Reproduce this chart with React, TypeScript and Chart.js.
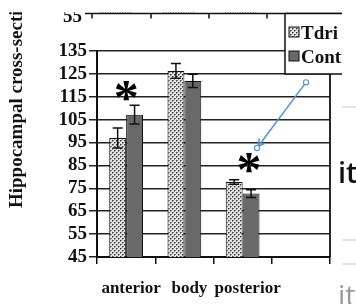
import React, { useEffect, useRef } from "react";
import { Chart, registerables } from "chart.js";

Chart.register(...registerables);

// ---- data ----
const categories = ["anterior", "body", "posterior", ""];
const seriesNames = ["Tdri", "Control"];
const tdriValues = [97, 126.3, 77.8, null];
const tdriErrors = [4.4, 3.2, 1.0, null];
const controlValues = [107.2, 121.9, 72.7, null];
const controlErrors = [4.1, 2.9, 1.7, null];
const yMin = 45;
const yMax = 135;
const yStep = 10;
const yAxisTitle = "Hippocampal cross-sectional area";
const topAxisLabel = "55";
// significance stars: category index, value
const starCategories = [0, 2.11];
const starValues = [117.6, 86];
// annotation arrow (category index, value)
const arrowFrom = [3.088, 121.3];
const arrowTo = [2.247, 92.6];
const sideTexts = ["it", "it"];

const SERIF = "'Liberation Serif', 'Times New Roman', serif";

function makePattern(): CanvasPattern | string {
  const c = document.createElement("canvas");
  c.width = 4;
  c.height = 4;
  const g = c.getContext("2d");
  if (!g) return "#bbb";
  g.fillStyle = "#e2e2e2";
  g.fillRect(0, 0, 4, 4);
  g.fillStyle = "#3a3a3a";
  g.fillRect(0, 0, 1, 1);
  g.fillRect(2, 2, 1, 1);
  g.fillStyle = "#888";
  g.fillRect(1, 0, 1, 1);
  g.fillRect(3, 2, 1, 1);
  g.fillRect(0, 1, 1, 1);
  g.fillRect(2, 3, 1, 1);
  const p = g.createPattern(c, "repeat");
  return p || "#bbb";
}

const extrasPlugin = {
  id: "extras",
  afterDatasetsDraw(chart: any) {
    const ctx = chart.ctx;
    const ys = chart.scales.y;
    const errs = [tdriErrors, controlErrors];
    const vals = [tdriValues, controlValues];
    ctx.save();
    ctx.strokeStyle = "#111";
    ctx.lineWidth = 1.5;
    for (let d = 0; d < 2; d++) {
      const meta = chart.getDatasetMeta(d);
      meta.data.forEach((el: any, i: number) => {
        const v = vals[d][i];
        const e = errs[d][i];
        if (v == null || e == null) return;
        const x = el.x;
        const yt = ys.getPixelForValue(v + e);
        const yb = ys.getPixelForValue(v - e);
        ctx.beginPath();
        ctx.moveTo(x, yt);
        ctx.lineTo(x, yb);
        ctx.moveTo(x - 5, yt);
        ctx.lineTo(x + 5, yt);
        ctx.moveTo(x - 5, yb);
        ctx.lineTo(x + 5, yb);
        ctx.stroke();
      });
    }
    ctx.restore();
  },
  afterDraw(chart: any) {
    const ctx = chart.ctx;
    const xs = chart.scales.x;
    const ys = chart.scales.y;
    const area = chart.chartArea;
    ctx.save();

    // right border of plot
    ctx.strokeStyle = "#111";
    ctx.lineWidth = 1.8;
    ctx.beginPath();
    ctx.moveTo(area.right, ys.getPixelForValue(125));
    ctx.lineTo(area.right, area.bottom);
    ctx.stroke();

    // y-axis title
    ctx.save();
    ctx.translate(22, 208);
    ctx.rotate(-Math.PI / 2);
    ctx.fillStyle = "#111";
    ctx.font = `bold 19px ${SERIF}`;
    ctx.textAlign = "left";
    ctx.textBaseline = "alphabetic";
    ctx.fillText(yAxisTitle, 0, 0);
    ctx.restore();

    // top remnant axis from figure above
    ctx.fillStyle = "#111";
    ctx.font = `bold 19px ${SERIF}`;
    ctx.textAlign = "right";
    ctx.textBaseline = "alphabetic";
    ctx.fillText(topAxisLabel, 82, 22);
    ctx.fillStyle = "#fff";
    ctx.fillRect(0, 0, 356, 12.3);
    ctx.strokeStyle = "#111";
    ctx.lineWidth = 1.5;
    ctx.beginPath();
    ctx.moveTo(85, 13.5);
    ctx.lineTo(342, 13.5);
    ctx.stroke();
    const tickXs = [92, 151, 209, 267, 325];
    ctx.beginPath();
    tickXs.forEach((tx) => {
      ctx.moveTo(tx, 13);
      ctx.lineTo(tx, 18.5);
    });
    ctx.stroke();
    ctx.strokeStyle = "#777";
    ctx.lineWidth = 1;
    ctx.setLineDash([1, 1.5]);
    [[100, 132], [163, 195], [225, 258]].forEach(([a, b]) => {
      ctx.beginPath();
      ctx.moveTo(a, 12.5);
      ctx.lineTo(b, 12.5);
      ctx.stroke();
    });
    ctx.setLineDash([]);

    // legend box
    const lx = 285;
    const ly = 13.5;
    const lb = ys.getPixelForValue(125);
    ctx.save();
    ctx.beginPath();
    ctx.rect(0, 0, 342, 304);
    ctx.clip();
    ctx.fillStyle = "#fff";
    ctx.fillRect(lx, ly, 80, lb - ly);
    ctx.strokeStyle = "#111";
    ctx.lineWidth = 1.5;
    ctx.beginPath();
    ctx.moveTo(lx, ly);
    ctx.lineTo(lx, lb);
    ctx.lineTo(342, lb);
    ctx.moveTo(lx, ly);
    ctx.lineTo(342, ly);
    ctx.stroke();
    const fills = [chart.data.datasets[0].backgroundColor, chart.data.datasets[1].backgroundColor];
    const rows = [32, 56];
    ctx.font = `bold 19px ${SERIF}`;
    ctx.textAlign = "left";
    ctx.textBaseline = "alphabetic";
    seriesNames.forEach((name, i) => {
      ctx.fillStyle = fills[i];
      ctx.fillRect(289, rows[i] - 5, 10, 10);
      ctx.strokeStyle = "#111";
      ctx.lineWidth = 1;
      ctx.strokeRect(289, rows[i] - 5, 10, 10);
      ctx.fillStyle = "#111";
      ctx.fillText(name, 301, rows[i] + 6.5);
    });
    ctx.restore();

    // significance stars
    ctx.fillStyle = "#000";
    ctx.font = `bold 50px ${SERIF}`;
    ctx.textAlign = "center";
    ctx.textBaseline = "alphabetic";
    starCategories.forEach((c, i) => {
      const x = xs.getPixelForValue(c);
      const y = ys.getPixelForValue(starValues[i]);
      const m = ctx.measureText("*");
      ctx.fillText("*", x, y + (m.actualBoundingBoxAscent - m.actualBoundingBoxDescent) / 2);
    });

    // arrow
    const x1 = xs.getPixelForValue(arrowFrom[0]);
    const y1 = ys.getPixelForValue(arrowFrom[1]);
    const x2 = xs.getPixelForValue(arrowTo[0]);
    const y2 = ys.getPixelForValue(arrowTo[1]);
    const ang = Math.atan2(y2 - y1, x2 - x1);
    ctx.strokeStyle = "#5b95cf";
    ctx.lineWidth = 1.6;
    ctx.beginPath();
    ctx.moveTo(x1, y1);
    ctx.lineTo(x2, y2);
    ctx.stroke();
    const hx = x2 - Math.cos(ang) * 2;
    const hy = y2 - Math.sin(ang) * 2;
    ctx.beginPath();
    ctx.moveTo(hx - Math.cos(ang - 0.5) * 8, hy - Math.sin(ang - 0.5) * 8);
    ctx.lineTo(hx, hy);
    ctx.lineTo(hx - Math.cos(ang + 0.5) * 8, hy - Math.sin(ang + 0.5) * 8);
    ctx.stroke();
    ctx.fillStyle = "#fff";
    ctx.lineWidth = 1.2;
    [[x1, y1], [x2, y2]].forEach(([cx, cy]) => {
      ctx.beginPath();
      ctx.arc(cx, cy, 2.6, 0, Math.PI * 2);
      ctx.fill();
      ctx.stroke();
    });

    // right-side page remnants
    ctx.fillStyle = "#fff";
    ctx.fillRect(342, 0, 14, 304);
    ctx.strokeStyle = "#dcdcdc";
    ctx.lineWidth = 1.5;
    [107, 240, 264].forEach((gy) => {
      ctx.beginPath();
      ctx.moveTo(342, gy);
      ctx.lineTo(356, gy);
      ctx.stroke();
    });
    ctx.textAlign = "left";
    ctx.textBaseline = "alphabetic";
    ctx.font = `600 29px 'Open Sans', 'DejaVu Sans', sans-serif`;
    ctx.fillStyle = "#111";
    ctx.fillText(sideTexts[0], 338, 183);
    ctx.font = `29px 'Open Sans', 'DejaVu Sans', sans-serif`;
    ctx.fillStyle = "#9a9a9a";
    ctx.fillText(sideTexts[1], 338, 306);

    ctx.restore();
  },
};

export default function App() {
  const ref = useRef<HTMLCanvasElement | null>(null);
  useEffect(() => {
    document.body.style.margin = "0";
    const canvas = ref.current;
    if (!canvas) return;
    const pattern = makePattern();
    const chart = new Chart(canvas, {
      type: "bar",
      data: {
        labels: categories,
        datasets: [
          {
            label: seriesNames[0],
            data: tdriValues as any,
            backgroundColor: pattern as any,
            borderColor: "#111",
            borderWidth: 1,
            categoryPercentage: 0.58,
            barPercentage: 1,
          },
          {
            label: seriesNames[1],
            data: controlValues as any,
            backgroundColor: "#696969",
            borderColor: "#111",
            borderWidth: 1,
            categoryPercentage: 0.58,
            barPercentage: 1,
          },
        ],
      },
      options: {
        responsive: false,
        animation: false,
        events: [],
        layout: { padding: { top: 51, right: 26, left: 0, bottom: 0 } },
        plugins: {
          legend: { display: false },
          tooltip: { enabled: false },
          title: { display: false },
        },
        scales: {
          x: {
            afterFit: (s: any) => {
              s.height = 47;
            },
            grid: {
              offset: true,
              drawOnChartArea: false,
              drawTicks: true,
              tickLength: 7,
              color: "#111",
              lineWidth: 1.5,
            },
            border: { display: true, color: "#111", width: 2 },
            ticks: {
              autoSkip: false,
              maxRotation: 0,
              minRotation: 0,
              color: "#111",
              padding: 14,
              labelOffset: 5,
              font: { family: SERIF, size: 17, weight: "bold" },
            },
          },
          y: {
            min: yMin,
            max: yMax,
            afterFit: (s: any) => {
              s.width = 97;
            },
            ticks: {
              stepSize: yStep,
              autoSkip: false,
              color: "#111",
              padding: 2,
              font: { family: SERIF, size: 19, weight: "bold" },
            },
            grid: {
              color: "#222",
              lineWidth: 1.5,
              drawTicks: true,
              tickLength: 8,
            },
            border: { display: true, color: "#111", width: 2 },
          },
        },
      },
      plugins: [extrasPlugin],
    });
    return () => chart.destroy();
  }, []);
  return (
    <div style={{ width: 356, height: 304, background: "#fff" }}>
      <canvas ref={ref} width={356} height={304} style={{ display: "block" }} />
    </div>
  );
}
